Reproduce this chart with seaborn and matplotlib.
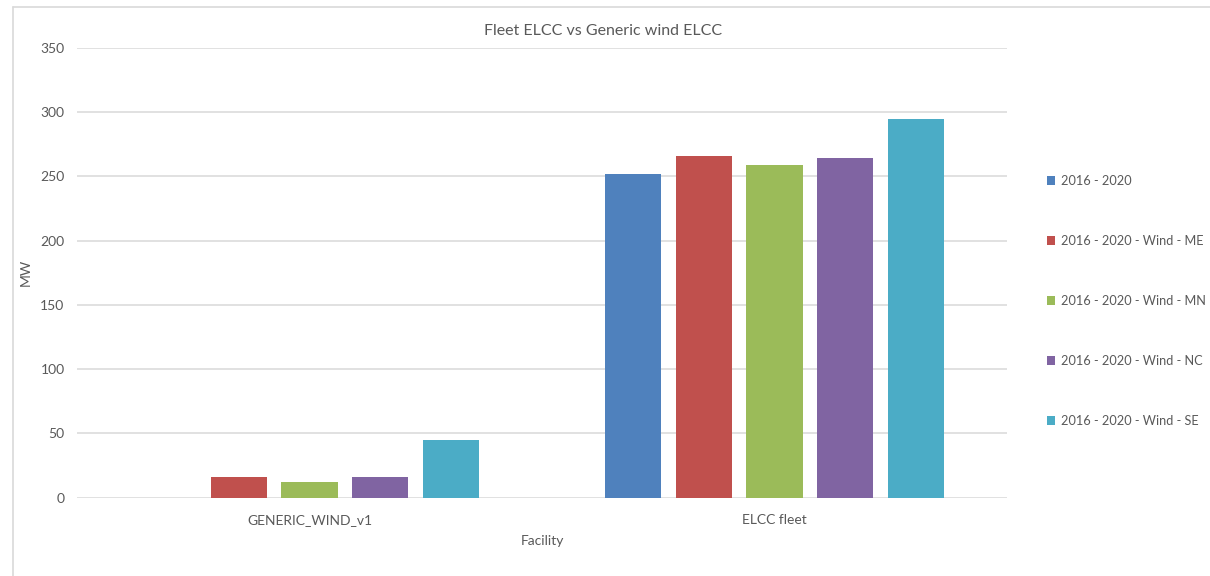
import matplotlib
matplotlib.use("Agg")
import matplotlib.pyplot as plt
from matplotlib.lines import Line2D
import pandas as pd
import seaborn as sns

# Chart data
facilities = ["GENERIC_WIND_v1", "ELCC fleet"]
series = [
    "2016 - 2020",
    "2016 - 2020 - Wind - ME",
    "2016 - 2020 - Wind - MN",
    "2016 - 2020 - Wind - NC",
    "2016 - 2020 - Wind - SE",
]
generic_wind_mw = [0.0, 16.3, 12.0, 16.3, 44.6]
elcc_fleet_mw = [251.6, 266.0, 258.7, 264.2, 294.9]
y_ticks = [0, 50, 100, 150, 200, 250, 300, 350]

colors = ["#4F81BD", "#C0504D", "#9BBB59", "#8064A2", "#4BACC6"]
text_color = "#595959"
grid_color = "#D9D9D9"

rows = []
for fac, vals in zip(facilities, [generic_wind_mw, elcc_fleet_mw]):
    for s, v in zip(series, vals):
        rows.append({"Facility": fac, "Series": s, "MW": v})
df = pd.DataFrame(rows)

sns.set_theme(style="white")
plt.rcParams["font.family"] = ["Lato", "DejaVu Sans"]

fig = plt.figure(figsize=(12.10, 5.76), dpi=100)
ax = fig.add_axes([77 / 1210, 1 - 497.7 / 576, 930 / 1210, (497.7 - 47.7) / 576])

sns.barplot(
    data=df, x="Facility", y="MW", hue="Series",
    order=facilities, hue_order=series, palette=colors,
    width=0.763, gap=0.21, errorbar=None, linewidth=0,
    saturation=1, ax=ax,
)

ax.set_xlim(-0.5, 1.5)
ax.set_ylim(0, 350)
ax.set_yticks(y_ticks)
ax.yaxis.grid(True, color=grid_color, linewidth=1.1)
ax.set_axisbelow(True)
for sp in ax.spines.values():
    sp.set_visible(False)
ax.tick_params(axis="y", length=0, pad=9, labelsize=10, labelcolor=text_color)
ax.tick_params(axis="x", length=0, pad=12, labelsize=10, labelcolor=text_color)

ax.set_xlabel("Facility", fontsize=10, color=text_color, labelpad=6)
ax.set_ylabel("MW", fontsize=10, color=text_color, labelpad=6)
fig.text(603 / 1210, 1 - 31 / 576, "Fleet ELCC vs Generic wind ELCC",
         ha="center", va="center", fontsize=11.5, color=text_color)

sns.move_legend(
    ax, "center left",
    bbox_to_anchor=(1047 / 1210, 1 - 301 / 576),
    bbox_transform=fig.transFigure,
    frameon=False, title=None, fontsize=9.2,
    labelspacing=3.75, handlelength=0.65, handleheight=0.65,
    handletextpad=0.45, borderpad=0, borderaxespad=0,
    labelcolor=text_color,
)

# Outer chart border (top and left edges)
fig.add_artist(Line2D([13 / 1210, 1.0], [1 - 7 / 576, 1 - 7 / 576],
                      transform=fig.transFigure, color=grid_color, linewidth=1.2))
fig.add_artist(Line2D([13 / 1210, 13 / 1210], [0.0, 1 - 7 / 576],
                      transform=fig.transFigure, color=grid_color, linewidth=1.2))

fig.savefig("out.png", dpi=100)
